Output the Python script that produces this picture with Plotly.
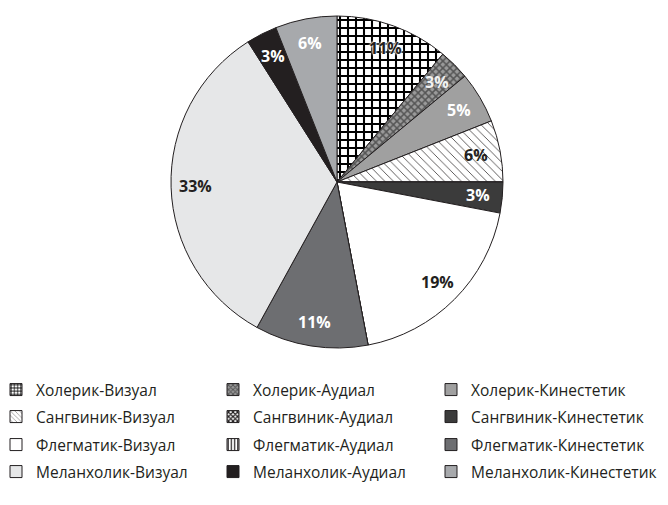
import math
import plotly.graph_objects as go

# categories (legend order) and their shares, %
labels = ["Холерик-Визуал", "Холерик-Аудиал", "Холерик-Кинестетик",
          "Сангвиник-Визуал", "Сангвиник-Аудиал", "Сангвиник-Кинестетик",
          "Флегматик-Визуал", "Флегматик-Аудиал", "Флегматик-Кинестетик",
          "Меланхолик-Визуал", "Меланхолик-Аудиал", "Меланхолик-Кинестетик"]
values = [11, 3, 5, 6, 0, 3, 19, 0, 11, 33, 3, 6]

bg = ["white", "#9a9a9a", "#a0a0a0", "white", "white", "#3b3b3b",
      "white", "white", "#6d6e71", "#e6e7e8", "#231f20", "#a7a9ac"]
fg = ["black", "#555555", "#a0a0a0", "#231f20", "#231f20", "#3b3b3b",
      "white", "#231f20", "#6d6e71", "#e6e7e8", "#231f20", "#a7a9ac"]
shapes = ["+", "x", "", "\\", "x", "", "", "|", "", "", "", ""]
sizes = [8, 5, 8, 6, 4, 8, 8, 8, 8, 8, 8, 8]
solid = [0.45, 0.5, 0.3, 0.12, 0.6, 0.3, 0.3, 0.4, 0.3, 0.3, 0.3, 0.3]
txtcol = ["#231f20", "#f2f2f2", "white", "#231f20", "white", "white",
          "#231f20", "#231f20", "white", "#231f20", "white", "white"]
# white halo on the busy pattern so the label stays readable
halo = ["0 0 3px white, 0 0 3px white, 0 0 2px white"] + ["none"] * 11

# page body has an 8px margin, so the figure is sized to fit the window
OFF = 8
W, H = 660, 497


def px(sx):
    return (sx - OFF) / W


def py(sy):
    return 1 - (sy - OFF) / H


# pie geometry in window pixels
cx, cy, R = 337, 182, 166

fig = go.Figure()
fig.add_trace(go.Pie(
    labels=labels, values=values, sort=False, direction="clockwise", rotation=0,
    textinfo="none",
    marker=dict(colors=bg, line=dict(color="#231f20", width=1),
                pattern=dict(shape=shapes, fgcolor=fg, bgcolor=bg,
                             size=sizes, solidity=solid, fillmode="replace")),
    domain=dict(x=[px(cx - R), px(cx + R)], y=[py(cy + R), py(cy - R)]),
    showlegend=False, hoverinfo="label+percent",
))

# percentage labels placed near the rim, like the original
total = sum(values)
cum = 0
for v, c, sh in zip(values, txtcol, halo):
    if v:
        mid = (cum + v / 2) / total * 2 * math.pi
        r = 0.855 * R
        fig.add_annotation(
            x=px(cx + r * math.sin(mid)), y=py(cy - r * math.cos(mid)),
            xref="paper", yref="paper", xanchor="center", yanchor="middle",
            text=f"<b>{v}%</b>", showarrow=False,
            font=dict(family="Open Sans", size=16, color=c, shadow=sh),
        )
    cum += v

# legend entries: 3 columns x 4 rows, one legend box each
col_left = [-4, 213, 431]
row_mid = [390, 417, 445, 472]
layout_legends = {}
for i, lab in enumerate(labels):
    name = "legend" if i == 0 else f"legend{i + 1}"
    fig.add_trace(go.Bar(
        x=[None], y=[None], name=lab, legend=name,
        marker=dict(color=bg[i], line=dict(color="#231f20", width=1),
                    pattern=dict(shape=shapes[i], fgcolor=fg[i], bgcolor=bg[i],
                                 size=4, solidity=solid[i], fillmode="replace")),
    ))
    layout_legends[name] = dict(
        x=px(col_left[i % 3]), xanchor="left",
        y=py(row_mid[i // 3]), yanchor="middle",
        bgcolor="rgba(0,0,0,0)",
        font=dict(family="Open Sans", size=15.5, color="#231f20"),
    )

fig.update_layout(
    width=W, height=H,
    margin=dict(l=0, r=0, t=0, b=0, autoexpand=False),
    paper_bgcolor="white", plot_bgcolor="white",
    xaxis=dict(visible=False), yaxis=dict(visible=False),
    **layout_legends,
)

fig.write_html("out.html")
